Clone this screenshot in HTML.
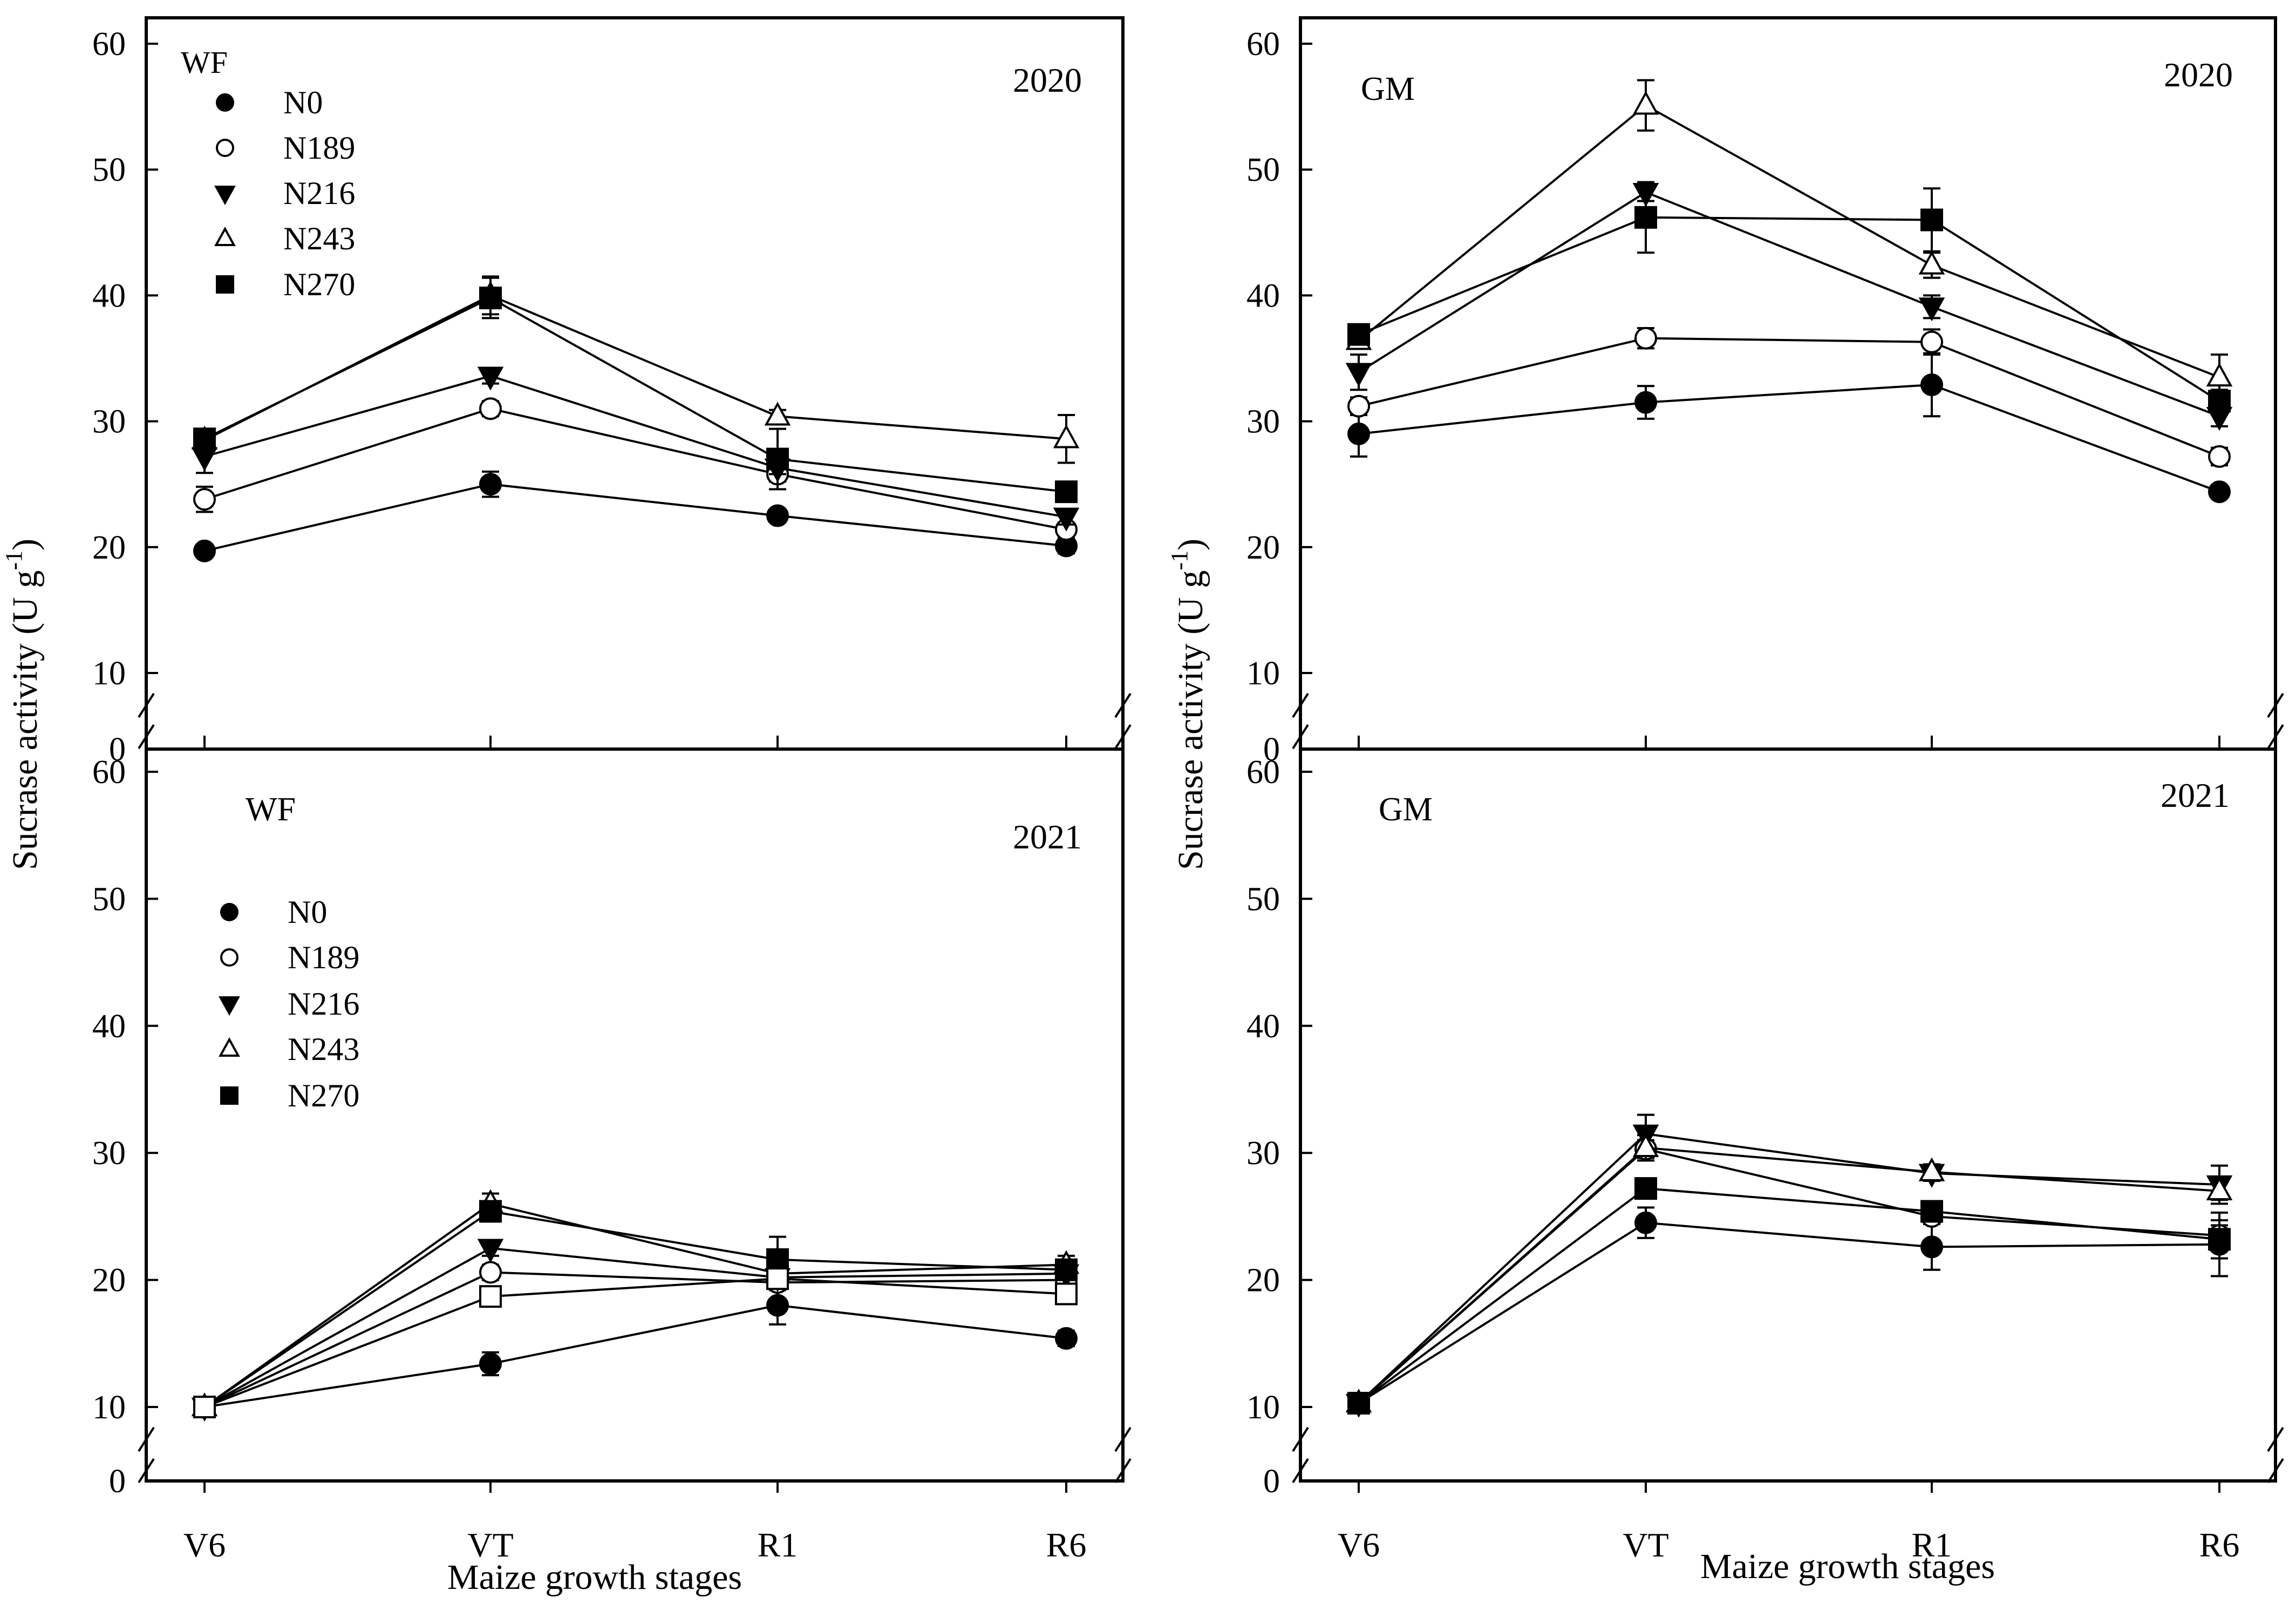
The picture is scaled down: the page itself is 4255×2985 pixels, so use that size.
<!DOCTYPE html>
<html><head><meta charset="utf-8">
<style>
html,body{margin:0;padding:0;background:#fff;}
svg{display:block;font-family:"Liberation Serif",serif;}
text{font-family:"Liberation Serif",serif;}
</style></head>
<body>
<svg id="chart" width="4255" height="2985" viewBox="0 0 4255 2985" xmlns="http://www.w3.org/2000/svg">
<rect width="4255" height="2985" fill="#fff"/>
</svg>
<script>
const categories = ["V6","VT","R1","R6"];
const seriesNames = ["N0","N189","N216","N243","N270","N189b"];
const seriesMarkers = ["circleF","circleO","triF","triO","squareF","squareO"];
// WF 2020
const wf2020 = [[19.7,25.0,22.5,20.1],[23.8,31.0,25.8,21.4],[27.2,33.6,26.3,22.4],[28.5,40.0,30.4,28.6],[28.6,39.8,27.0,24.4]];
const wf2020Err = [[0.4,1.0,0.5,0.6],[1.0,0.6,0.6,0.5],[1.3,0.6,0.5,0.6],[0.5,1.5,0.5,1.9],[0.5,1.6,2.4,0.8]];
// GM 2020
const gm2020 = [[29.0,31.5,32.9,24.4],[31.2,36.6,36.3,27.2],[33.9,48.2,39.1,30.4],[36.4,55.1,42.4,33.5],[36.9,46.2,46.0,31.6]];
const gm2020Err = [[1.8,1.3,2.5,0.5],[0.7,0.8,1.0,0.7],[1.4,0.7,0.9,0.8],[0.6,2.0,1.0,1.8],[0.5,2.8,2.5,0.9]];
// WF 2021
const wf2021 = [[10.0,13.4,18.0,15.4],[10.0,20.6,19.8,20.0],[10.0,22.5,20.2,20.5],[10.0,26.0,20.5,21.2],[10.0,25.4,21.6,20.8],[10.0,18.7,20.1,18.9]];
const wf2021Err = [[0.3,0.9,1.5,0.6],[0.3,0.6,0.6,0.5],[0.3,0.6,0.5,0.5],[0.3,0.8,0.6,0.7],[0.3,0.8,1.8,0.5],[0.3,0.7,0.6,0.6]];
// GM 2021
const gm2021 = [[10.3,24.5,22.6,22.8],[10.3,30.3,25.0,23.5],[10.3,31.5,28.4,27.5],[10.3,30.4,28.5,27.0],[10.3,27.2,25.4,23.2]];
const gm2021Err = [[0.4,1.2,1.8,2.5],[0.4,0.7,0.6,0.8],[0.4,1.5,0.6,1.5],[0.4,1.0,0.6,0.7],[0.4,0.8,0.7,1.5]];
const yTicks = [10,20,30,40,50,60];

const NS = "http://www.w3.org/2000/svg";
const svg = document.getElementById("chart");
const FF = '"Liberation Serif", serif';
function mk(tag, attrs, parent){
  const e = document.createElementNS(NS, tag);
  for (const k in attrs) e.setAttribute(k, attrs[k]);
  if (tag === "text") e.setAttribute("font-family", FF);
  (parent||svg).appendChild(e);
  return e;
}
function marker(g, type, x, y, r){
  let e;
  const fill = type.endsWith("F") ? "#000" : "#fff";
  if (type.startsWith("circle")) e = mk("circle",{cx:x,cy:y,r:r,fill:fill,stroke:"#000","stroke-width":4},g);
  else if (type.startsWith("square")) e = mk("rect",{x:x-r,y:y-r,width:2*r,height:2*r,fill:fill,stroke:"#000","stroke-width":4},g);
  else if (type==="triF") e = mk("polygon",{points:`${x-r*1.1},${y-r*0.8} ${x+r*1.1},${y-r*0.8} ${x},${y+r*1.2}`,fill:fill,stroke:"#000","stroke-width":4},g);
  else e = mk("polygon",{points:`${x-r*1.1},${y+r*0.8} ${x+r*1.1},${y+r*0.8} ${x},${y-r*1.2}`,fill:fill,stroke:"#000","stroke-width":4},g);
  return e;
}

const panels = [
  {id:"wf-2020", left:271, right:2081, top:33, bottom:1388, y60:81, unit:23.32, xs:[379,909,1441,1976], data:wf2020, err:wf2020Err, tickUp:true,
   label:"WF", lx:335, ly:135, year:"2020", yx:2005, yy:170, legend:{mx:417,tx:525,ys:[190,274,358,442,527]}, labelSize:58},
  {id:"gm-2020", left:2410, right:4217, top:33, bottom:1388, y60:81, unit:23.32, xs:[2518,3050,3580,4113], data:gm2020, err:gm2020Err, tickUp:true,
   label:"GM", lx:2522, ly:185, year:"2020", yx:4138, yy:160, labelSize:62},
  {id:"wf-2021", left:271, right:2081, top:1388, bottom:2744, y60:1430, unit:23.54, xs:[379,909,1441,1976], data:wf2021, err:wf2021Err, tickUp:false,
   label:"WF", lx:455, ly:1520, year:"2021", yx:2005, yy:1572, legend:{mx:425,tx:533,ys:[1690,1774,1860,1944,2030]}, labelSize:62},
  {id:"gm-2021", left:2410, right:4217, top:1388, bottom:2744, y60:1430, unit:23.54, xs:[2518,3050,3580,4113], data:gm2021, err:gm2021Err, tickUp:false,
   label:"GM", lx:2555, ly:1520, year:"2021", yx:4132, yy:1495, labelSize:62}
];

panels.forEach(p=>{
  const g = mk("g",{});
  
  
  const y = v => p.y60 + (60 - v) * p.unit;
  const fr = mk("rect",{x:p.left,y:p.top,width:p.right-p.left,height:p.bottom-p.top,fill:"none",stroke:"#000","stroke-width":6},g);
  
  
  yTicks.forEach(t=>{
    mk("line",{x1:p.left,x2:p.left+22,y1:y(t),y2:y(t),stroke:"#000","stroke-width":4},g);
    const tl = mk("text",{x:p.left-38,y:y(t)+21,"text-anchor":"end","font-size":62},g);
    tl.textContent = t;
    
    
  });
  const z = mk("text",{x:p.left-38,y:p.bottom+21,"text-anchor":"end","font-size":62},g);
  z.textContent = "0";
  
  
  const b1 = y(10) + 60, b2 = y(10) + 118;
  [p.left, p.right].forEach(bx=>{
    [b1,b2].forEach(by=>{
      const br = mk("line",{x1:bx-14,y1:by+22,x2:bx+14,y2:by-22,stroke:"#000","stroke-width":4},g);
      
      
    });
  });
  p.xs.forEach((x,i)=>{
    if (p.tickUp) mk("line",{x1:x,x2:x,y1:p.bottom,y2:p.bottom-25,stroke:"#000","stroke-width":4},g);
    else {
      mk("line",{x1:x,x2:x,y1:p.bottom,y2:p.bottom+22,stroke:"#000","stroke-width":4},g);
      mk("line",{x1:x,x2:x,y1:p.top,y2:p.top-22,stroke:"#000","stroke-width":4},g);
      const xl = mk("text",{x:x,y:p.bottom+140,"text-anchor":"middle","font-size":64},g);
      xl.textContent = categories[i];
      
      
    }
  });
  p.data.forEach((vals,si)=>{
    const sg = mk("g",{},g);
    
    
    const pts = vals.map((v,i)=>`${p.xs[i]},${y(v)}`).join(" ");
    mk("polyline",{points:pts,fill:"none",stroke:"#000","stroke-width":4},sg);
    vals.forEach((v,i)=>{
      const e = p.err[si][i];
      const x = p.xs[i];
      mk("line",{x1:x,x2:x,y1:y(v+e),y2:y(v-e),stroke:"#000","stroke-width":4},sg);
      mk("line",{x1:x-16,x2:x+16,y1:y(v+e),y2:y(v+e),stroke:"#000","stroke-width":4},sg);
      mk("line",{x1:x-16,x2:x+16,y1:y(v-e),y2:y(v-e),stroke:"#000","stroke-width":4},sg);
    });
    vals.forEach((v,i)=>{
      const m = marker(sg, seriesMarkers[si], p.xs[i], y(v), 19);
      
      
    });
  });
  const lb = mk("text",{x:p.lx,y:p.ly,"font-size":p.labelSize},g);
  lb.textContent = p.label;
  
  
  const yr = mk("text",{x:p.yx,y:p.yy,"text-anchor":"end","font-size":64},g);
  yr.textContent = p.year;
  
  
  if (p.legend){
    const lg = mk("g",{},g);
    
    
    p.legend.ys.forEach((ly,i)=>{
      const le = mk("g",{},lg);
      
      
      marker(le, seriesMarkers[i], p.legend.mx, ly, 15);
      const t = mk("text",{x:p.legend.tx,y:ly+20,"font-size":60},le);
      t.textContent = seriesNames[i];
    });
  }
});

[[68,1305],[2228,1305]].forEach(([x,yy],i)=>{
  const t = mk("text",{x:x,y:yy,"text-anchor":"middle","font-size":66,transform:`rotate(-90 ${x} ${yy})`});
  
  
  t.textContent = "Sucrase activity  (U g";
  const s = mk("tspan",{"font-size":44,dy:-28},t); s.textContent = "-1";
  const s2 = mk("tspan",{dy:28},t); s2.textContent = ")";
});
[[1102,2944],[3424,2924]].forEach(([x,yy],i)=>{
  const t = mk("text",{x:x,y:yy,"text-anchor":"middle","font-size":66});
  t.textContent = "Maize growth stages";
  
  
});
</script>
</body></html>
